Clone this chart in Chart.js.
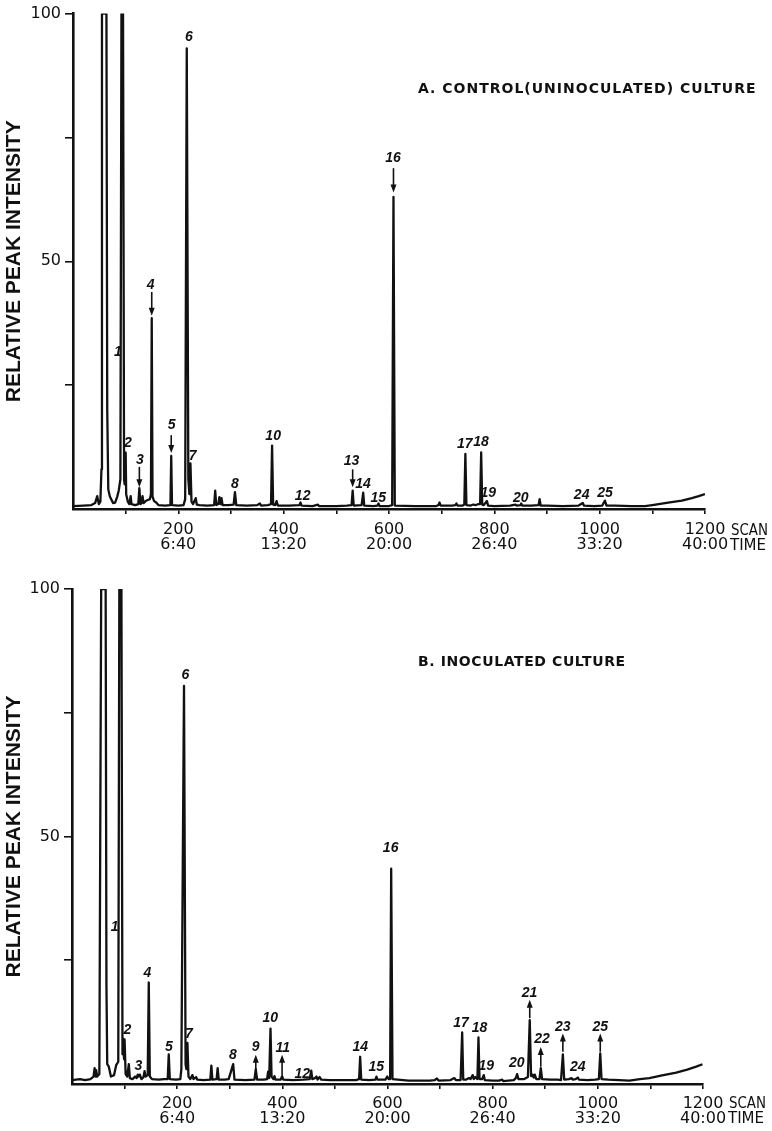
<!DOCTYPE html>
<html><head><meta charset="utf-8">
<script src="https://cdn.jsdelivr.net/npm/chart.js@4.4.1/dist/chart.umd.min.js"></script>
<style>
html,body{margin:0;padding:0;background:#fff;}
#wrap{position:relative;width:772px;height:1131px;background:#fff;}
#ca{position:absolute;left:0;top:0;}
#cb{position:absolute;left:0;top:560px;}
</style></head><body>
<div id="wrap">
<canvas id="ca" width="772" height="560"></canvas>
<canvas id="cb" width="772" height="571"></canvas>
</div>
<script>
// ---------- axis tick data ----------
const tickScans = [200, 400, 600, 800, 1000, 1200];
const tickTimes = ['6:40', '13:20', '20:00', '26:40', '33:20', '40:00'];
const yLabelValues = [50, 100];
const axisUnits = ['SCAN', 'TIME'];

// ---------- Panel A: control (uninoculated) culture, [scan, relative intensity] ----------
const traceA = [
 [0,0.6],[20,0.7],[35,0.8],[42,1.2],[46,2.6],[49,1.0],[52,1.5],[54,8],[55,100],[63.5,100],[65,20],[67,4],
 [70,2.5],[76,1.2],[80,1.3],[84,2.5],[87,3.8],[90,6],[92,100],[95,100],[97,6],[98,5],[100,11.4],[101,3],
 [104,1.5],[107,1.0],[109.5,2.6],[111,1.0],[118,0.8],[124,1.0],[126,4.2],[128,1.0],[130,1.2],[132,2.6],
 [134,1.2],[138,1.6],[142,1.8],[146,2.0],[148,3],[149.5,38.5],[151,2.5],[154,1.6],[158,1.3],[162,0.8],
 [175,0.7],[185,0.8],[186.5,10.7],[188,0.8],[200,0.7],[210,0.8],[213,2],[216,93],[219,6],[221,3],[223,9.2],
 [225,1.5],[228,1.0],[233,2.2],[235,0.9],[240,0.8],[255,0.7],[268,0.8],[270,3.7],[272,0.8],[276,1.0],
 [278,2.4],[280,1.0],[282,2.2],[284,0.8],[295,0.8],[305,0.9],[307.5,3.4],[310,0.8],[330,0.7],[350,0.8],
 [355,1.1],[357,0.7],[370,0.8],[376,1.0],[378,12.8],[380,0.9],[384,0.8],[386.5,1.6],[389,0.7],[410,0.7],
 [430,0.8],[432,1.3],[434,0.7],[455,0.6],[465,0.9],[467,0.6],[500,0.6],[520,0.7],[529,0.8],[531,3.7],
 [533,0.7],[548,0.8],[551,3.3],[553,0.7],[570,0.6],[578,0.7],[580,1.1],[582,0.6],[600,0.6],[606,0.8],
 [608.5,63],[611,0.7],[650,0.6],[690,0.6],[694,0.8],[696,1.3],[698,0.7],[720,0.7],[726,0.8],[728,1.1],
 [730,0.7],[740,0.7],[743,0.9],[745,11.1],[747,0.8],[755,0.7],[760,0.9],[765,0.8],[770,1.0],[773,1.0],
 [775,11.4],[777,0.9],[780,0.8],[786,1.6],[788,0.7],[800,0.6],[830,0.7],[840,0.9],[842,0.7],[850,0.8],
 [851,1.1],[853,0.7],[870,0.7],[884,0.8],[886,2.0],[888,0.7],[900,0.7],[930,0.6],[960,0.7],[968,1.2],
 [970,0.7],[990,0.6],[1005,0.7],[1010,1.7],[1013,0.7],[1030,0.7],[1060,0.6],[1086,0.6],[1100,0.8],
 [1112,1.0],[1130,1.3],[1156,1.7],[1175,2.2],[1188,2.6],[1200,3.0]
];
const peakTextA = ['1','2','3','4','5','6','7','8','10','12','13','14','15','16','17','18','19','20','24','25'];
const peakLabelScanA = [85.4,104.4,127.2,147.5,187.4,220,227,307.6,380,436,529,550.6,579.7,607.6,744,774.6,788.5,850,965.8,1010];
const peakLabelValA = [31.7,13.3,9.9,45.2,16.9,95.2,10.7,5.0,14.7,2.6,9.7,5.0,2.1,70.8,13.1,13.4,3.3,2.2,2.8,3.2];
const arrowScanA = [126, 149.5, 186.5, 531, 608.5];
const arrowFromA = [8.5, 43.8, 14.9, 8.0, 68.8];
const arrowToA = [4.4, 39.0, 11.3, 4.4, 63.9];

// ---------- Panel B: inoculated culture ----------
const traceB = [
 [0,0.8],[15,1.0],[25,0.8],[35,1.0],[41,1.5],[43,3.2],[45,1.5],[46,2.8],[48,1.5],[52,2],[55.5,100],[64,100],
 [65.5,20],[67,4],[70,3.5],[74,1.5],[80,1.8],[84,3.8],[88,4.5],[90,100],[94,100],[96,6],[97,9.2],[99,5],
 [100,9],[102,2],[105,1.5],[108,4.0],[110,1.2],[115,1.0],[120,1.5],[123,1.2],[125,1.9],[127,1.5],[129,1.9],
 [132,1.0],[136,1.4],[138,2.6],[140,1.5],[144,1.8],[146,20.5],[148,1.5],[152,1.0],[165,0.9],[175,1.0],
 [182,1.0],[184,6.0],[186,1.0],[198,0.9],[206,1.0],[208,3],[213,80.4],[216,4],[217.5,3],[219.5,8.3],
 [221.5,1.5],[225,1.0],[229,1.8],[231,1.0],[236,1.4],[238,0.9],[250,0.8],[263,0.9],[265,3.7],[267,0.9],
 [275,1.0],[277,3.2],[279,0.9],[290,0.9],[298,1.0],[306.5,4.0],[309,0.9],[330,0.8],[347,0.9],[349.5,3.0],
 [352,0.9],[365,0.9],[371,1.0],[373,2.5],[375,1.2],[377.5,11.2],[379.5,1.5],[383,1.0],[385,1.6],[387,0.9],
 [397,0.9],[399.5,1.6],[402,0.9],[420,0.8],[440,0.9],[452,1.0],[455,2.7],[457,1.0],[462,1.2],[465,1.5],
 [467,0.9],[471,1.4],[474,0.9],[490,0.8],[520,0.8],[540,0.8],[546,1.0],[548,5.5],[550,0.9],[565,0.8],
 [577,0.9],[579,1.5],[581,0.9],[596,0.9],[599.5,1.5],[602,1.0],[605,1.0],[607,43.5],[609.5,1.0],[640,0.7],
 [680,0.7],[690,0.8],[694,1.1],[697,0.7],[720,0.8],[727,1.2],[730,0.8],[739,0.8],[742,10.4],[744,0.9],
 [750,0.9],[755,1.2],[758,1.0],[762,1.8],[764,1.0],[767,1.4],[771,1.0],[773,9.4],[775,1.0],[780,1.0],
 [783,1.8],[785,0.8],[800,0.7],[812,0.7],[818,0.9],[820,0.6],[840,0.8],[844,1.2],[846.5,2.0],[849,1.0],
 [860,1.0],[867,1.4],[870.5,12.9],[873,1.6],[876,1.9],[878,1.3],[880,1.9],[883,1.0],[889,1.0],[891.5,3.2],
 [894,1.0],[910,0.9],[924,0.9],[930,0.8],[933.5,6.0],[936,0.9],[945,1.0],[950,1.2],[952,0.9],[958,1.0],
 [962,1.3],[964,0.9],[980,0.8],[995,0.9],[1002,1.0],[1004.6,6.2],[1007,1.0],[1020,0.9],[1040,0.8],
 [1060,0.7],[1080,1.0],[1098,1.2],[1120,1.7],[1149,2.3],[1170,2.9],[1187,3.5],[1199,4.0]
];
const peakTextB = ['1','2','3','4','5','6','7','8','9','10','11','12','14','15','16','17','18','19','20','21','22','23','24','25'];
const peakLabelScanB = [81.2,105.3,126.2,143.3,184.4,215.6,222.4,306,349.2,377.2,401,438,548.3,578.7,606,740,775,788,846,870,894,933.5,962,1004.6];
const peakLabelValB = [31.7,10.9,3.6,22.4,7.5,82.6,10.0,5.9,7.5,13.4,7.2,2.0,7.4,3.4,47.7,12.3,11.3,3.7,4.2,18.4,9.0,11.5,3.4,11.5];
const arrowScanB = [349.5, 399.5, 870.5, 891.5, 933.5, 1004.6];
const arrowFromB = [3.0, 1.8, 13.3, 3.5, 6.5, 6.5];
const arrowToB = [5.9, 5.9, 17.0, 7.5, 10.2, 10.2];

// ---------- drawing ----------
const INK = '#111';

function xLabel(v) {
  const i = tickScans.indexOf(v);
  if (i < 0) return '';
  return [String(v), tickTimes[i]];
}

const annotPlugin = {
  id: 'annot',
  afterDraw(chart, args, o) {
    const {ctx} = chart;
    const x = chart.scales.x, y = chart.scales.y;
    ctx.save();
    ctx.fillStyle = INK; ctx.strokeStyle = INK;
    // peak numbers
    ctx.font = 'italic bold 14px "Liberation Sans Narrow", "Liberation Sans", sans-serif';
    ctx.textAlign = 'center'; ctx.textBaseline = 'middle';
    o.texts.forEach((t, i) => {
      ctx.fillText(t, x.getPixelForValue(o.tScan[i]), y.getPixelForValue(o.tVal[i]));
    });
    // arrows
    ctx.lineWidth = 1.6;
    o.aScan.forEach((s, i) => {
      const px = x.getPixelForValue(s);
      const y1 = y.getPixelForValue(o.aFrom[i]);
      const y2 = y.getPixelForValue(o.aTo[i]);
      const dir = Math.sign(y2 - y1);
      ctx.beginPath(); ctx.moveTo(px, y1); ctx.lineTo(px, y2 - dir * 5); ctx.stroke();
      ctx.beginPath(); ctx.moveTo(px, y2); ctx.lineTo(px - 3, y2 - dir * 8); ctx.lineTo(px + 3, y2 - dir * 8);
      ctx.closePath(); ctx.fill();
    });
    // axis unit words after the last tick label
    ctx.font = '16px "DejaVu Sans", sans-serif';
    ctx.textAlign = 'left'; ctx.textBaseline = 'alphabetic';
    const xe = x.getPixelForValue(x.max);
    ctx.fillText(axisUnits[0], xe + 26, o.unitY[0], 37);
    ctx.fillText(axisUnits[1], xe + 25, o.unitY[1], 36);
    // panel title
    ctx.font = 'bold 14px "DejaVu Sans", sans-serif';
    try { ctx.letterSpacing = o.spacing; } catch (e) {}
    ctx.fillText(o.title, o.titleX, o.titleY);
    ctx.restore();
  }
};

function makeChart(id, trace, cfg) {
  return new Chart(document.getElementById(id), {
    type: 'line',
    data: { datasets: [{
      data: trace.map(p => ({x: p[0], y: p[1]})),
      borderColor: INK, borderWidth: 2.3, pointRadius: 0, tension: 0,
      borderJoinStyle: 'round', fill: false
    }]},
    plugins: [annotPlugin],
    options: {
      responsive: false, animation: false, devicePixelRatio: 1,
      layout: { padding: { top: cfg.top, right: cfg.right, left: 0, bottom: 0 } },
      plugins: {
        legend: { display: false }, tooltip: { enabled: false }, title: { display: false },
        annot: cfg.annot
      },
      scales: {
        x: {
          type: 'linear', min: 0, max: 1200,
          afterFit: s => { s.height = cfg.xh; },
          ticks: { stepSize: 100, autoSkip: false, maxRotation: 0, minRotation: 0, padding: cfg.xpad,
            color: INK, font: { family: 'DejaVu Sans', size: 16, lineHeight: 0.9 },
            callback: v => xLabel(v) },
          grid: { drawOnChartArea: false, drawTicks: true, tickLength: 5, lineWidth: 1.6,
            color: c => (c.tick && c.tick.value === 0) ? 'rgba(0,0,0,0)' : INK },
          border: { display: true, color: INK, width: 2.6 }
        },
        y: {
          min: 0, max: 100,
          afterFit: s => { s.width = cfg.yw; },
          ticks: { stepSize: 25, padding: 4, color: INK,
            font: { family: 'DejaVu Sans', size: 16 },
            callback: v => yLabelValues.includes(v) ? String(v) : '' },
          grid: { drawOnChartArea: false, drawTicks: true, tickLength: 8, lineWidth: 1.6,
            color: c => (c.tick && c.tick.value === 0) ? 'rgba(0,0,0,0)' : INK },
          border: { display: true, color: INK, width: 2.6 },
          title: { display: true, text: 'RELATIVE PEAK INTENSITY', color: INK,
            font: { family: 'Liberation Sans', size: 21, weight: 'bold' },
            padding: { top: 2, bottom: 0 } }
        }
      }
    }
  });
}

makeChart('ca', traceA, { top: 13, right: 67, xh: 51, yw: 73, xpad: 9,
  annot: { texts: peakTextA, tScan: peakLabelScanA, tVal: peakLabelValA,
    aScan: arrowScanA, aFrom: arrowFromA, aTo: arrowToA, spacing: '1px',
    unitY: [535, 550],
    title: 'A. CONTROL(UNINOCULATED) CULTURE', titleX: 418, titleY: 93 } });

makeChart('cb', traceB, { top: 29, right: 69, xh: 47, yw: 72, xpad: 8,
  annot: { texts: peakTextB, tScan: peakLabelScanB, tVal: peakLabelValB,
    aScan: arrowScanB, aFrom: arrowFromB, aTo: arrowToB, spacing: '0.6px',
    unitY: [548, 563],
    title: 'B. INOCULATED CULTURE', titleX: 418, titleY: 106 } });
</script>
</body></html>
